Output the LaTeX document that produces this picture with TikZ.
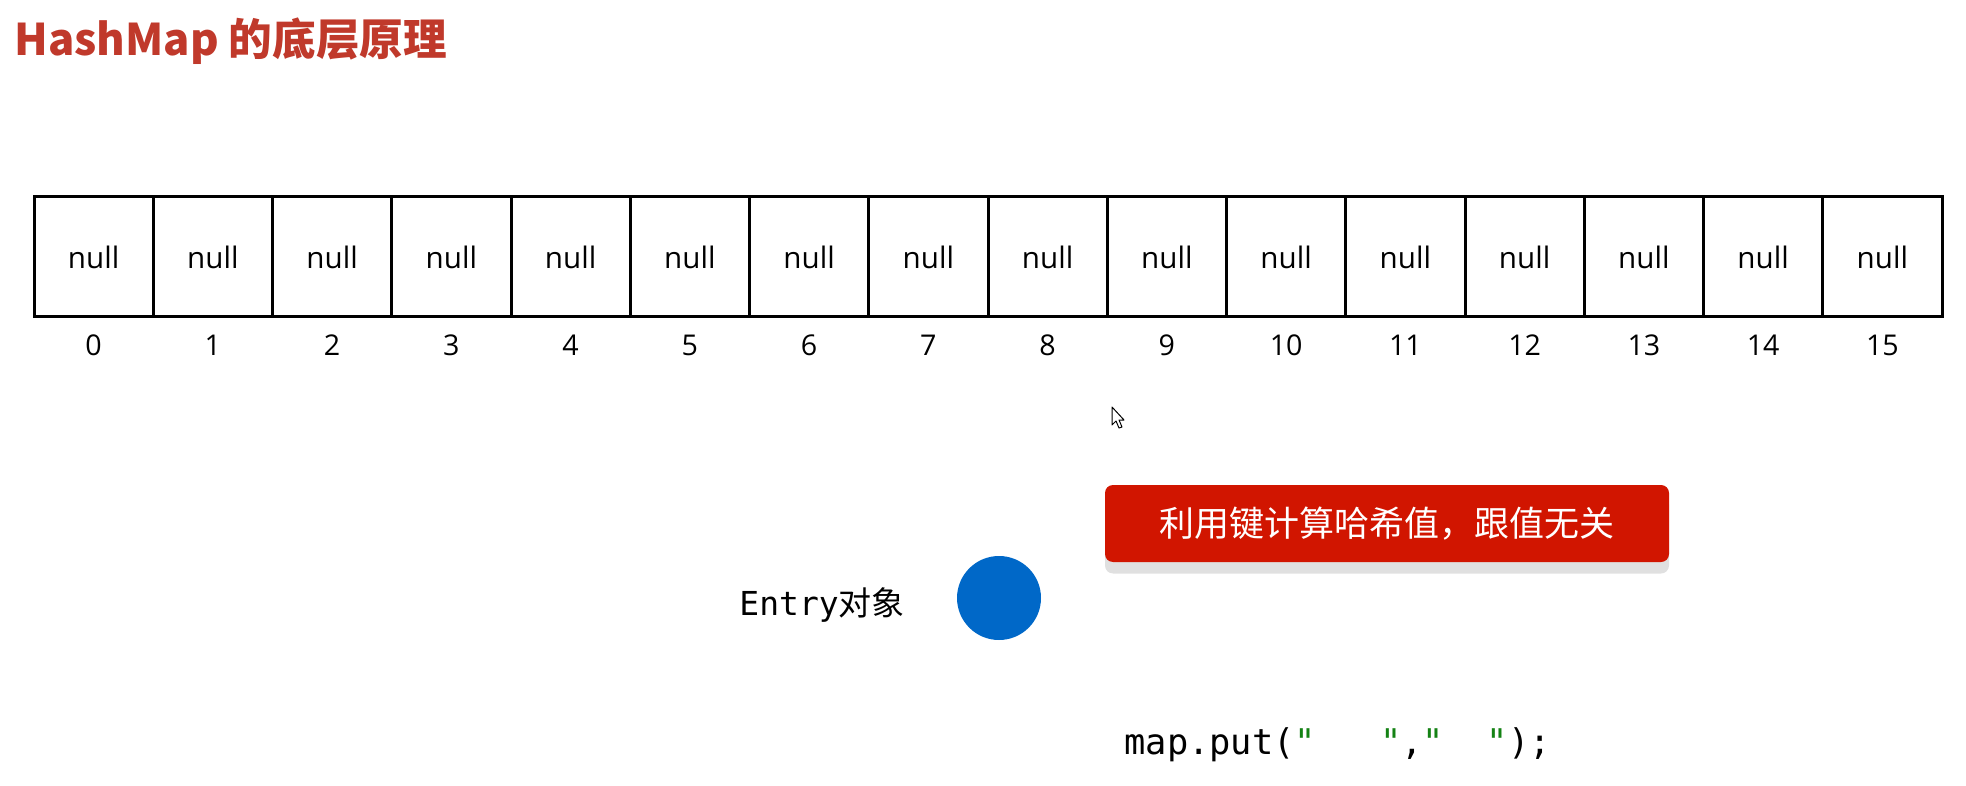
\documentclass[tikz,border=0pt]{standalone}
\usepackage{fontspec}
\setmainfont{Open Sans}
\newfontfamily\cjk{Noto Sans CJK SC}
\newfontfamily\mono{DejaVu Sans Mono}
\definecolor{titlered}{RGB}{192,57,43}
\definecolor{boxred}{RGB}{209,21,0}
\definecolor{entryblue}{RGB}{0,104,200}
\definecolor{shadowgray}{RGB}{224,224,224}
\definecolor{quotegreen}{RGB}{20,130,20}
\tikzset{
  cell/.style={draw=black, line width=1.5pt, minimum width=59.625pt, minimum height=60pt, inner sep=0pt, font=\fontsize{14.8pt}{17pt}\selectfont},
  idx/.style={inner sep=0pt, font=\fontsize{14.3pt}{17pt}\selectfont},
  tipbox/.style={fill=boxred, rounded corners=4pt, minimum width=282pt, minimum height=38.5pt, inner sep=0pt, text=white, font=\cjk\fontsize{17.5pt}{21pt}\selectfont},
  tipshadow/.style={fill=shadowgray, rounded corners=4pt, minimum width=282pt, minimum height=38.5pt, inner sep=0pt},
}
\begin{document}
\begin{tikzpicture}[x=0.5pt,y=-0.5pt]
\useasboundingbox (0,0) rectangle (1966,786);
% title
\node[anchor=west, inner sep=0pt, text=titlered, font=\cjk\bfseries\fontsize{21.8pt}{25pt}\selectfont] (title) at (14,41) {HashMap 的底层原理};
% array
\foreach \i in {0,...,15} {
  \node[cell] (c\i) at ({34+119.25*(\i+0.5)},257) {null};
  \node[idx] (i\i) at ({34+119.25*(\i+0.5)},345) {\i};
}
% cursor
\draw[fill=white, draw=black, line width=0.5pt, line join=round]
  (1112,407) -- (1112,425) -- (1116,421) -- (1119,428) -- (1122,427) -- (1119,420) -- (1124,420) -- cycle;
% tip box
\node[tipshadow] (shadow) at (1387,535) {};
\node[tipbox] (tip) at (1387,523.5) {利用键计算哈希值，跟值无关};
% entry
\node[anchor=west, inner sep=0pt, font=\fontsize{16.5pt}{19pt}\selectfont] (entrylabel) at (739,605) {{\mono Entry}{\cjk 对象}};
\node[circle, fill=entryblue, minimum size=42pt, inner sep=0pt] (entry) at (999,598) {};
% code
\node[anchor=west, inner sep=0pt, font=\mono\fontsize{17.7pt}{20pt}\selectfont] (code) at (1124,745) {map.put(\textcolor{quotegreen}{"\ \ \ "},\textcolor{quotegreen}{"\ \ "});};
\end{tikzpicture}
\end{document}
